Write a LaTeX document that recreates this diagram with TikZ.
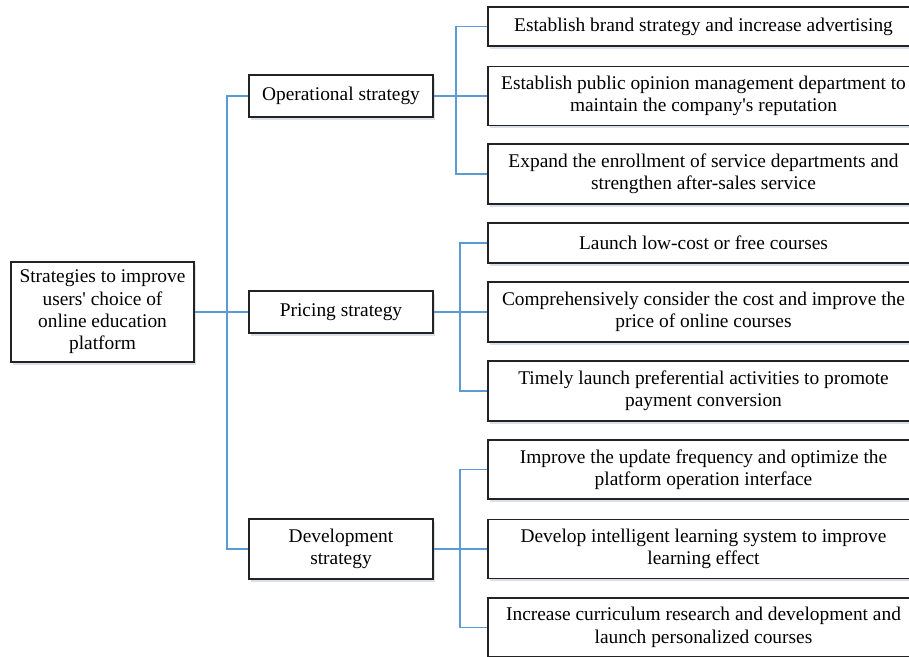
\documentclass[tikz,border=0pt]{standalone}
\usepackage{fontspec}
\setmainfont{Liberation Serif}
\usetikzlibrary{shadows}
\definecolor{linkblue}{RGB}{91,155,213}
\definecolor{boxline}{RGB}{35,35,35}
\definecolor{shade}{RGB}{208,216,230}
\begin{document}
\begin{tikzpicture}[x=1pt,y=-1pt,
  box/.style={draw=boxline, line width=1.2pt, fill=white, inner sep=0pt,
    align=center, font=\fontsize{19.4}{22.4}\selectfont,
    drop shadow={shadow xshift=1.5pt, shadow yshift=-2.5pt, fill=shade, opacity=0.8}},
  rootbox/.style={box, minimum width=183pt, minimum height=100pt},
  midbox/.style={box, minimum width=184pt},
  leafbox/.style={box, minimum width=431pt},
  conn/.style={draw=linkblue, line width=1.4pt}]
\useasboundingbox (0,0) rectangle (909,656);
\clip (0,0) rectangle (909,656);
\fill[white] (0,0) rectangle (909,656);

% root and strategy groups
\node[rootbox] (root) at (102.5,312) {Strategies to improve\\users\textquotesingle{} choice of\\online education\\platform};
\node[midbox, minimum height=42pt] (op) at (341,96) {Operational strategy};
\node[midbox, minimum height=42pt] (pr) at (341,312) {Pricing strategy};
\node[midbox, minimum height=60pt] (dv) at (341,549) {Development\\strategy};

% measures of each group
\node[leafbox, minimum height=39pt] (op1) at (703.5,26.5) {Establish brand strategy and increase advertising};
\node[leafbox, minimum height=59pt] (op2) at (703.5,96) {Establish public opinion management department to\\maintain the company\textquotesingle{}s reputation};
\node[leafbox, minimum height=60pt] (op3) at (703.5,174) {Expand the enrollment of service departments and\\strengthen after-sales service};

\node[leafbox, minimum height=40pt] (pr1) at (703.5,243) {Launch low-cost or free courses};
\node[leafbox, minimum height=60pt] (pr2) at (703.5,312) {Comprehensively consider the cost and improve the\\price of online courses};
\node[leafbox, minimum height=60pt] (pr3) at (703.5,391) {Timely launch preferential activities to promote\\payment conversion};

\node[leafbox, minimum height=59pt] (dv1) at (703.5,469.5) {Improve the update frequency and optimize the\\platform operation interface};
\node[leafbox, minimum height=59pt] (dv2) at (703.5,549) {Develop intelligent learning system to improve\\learning effect};
\node[leafbox, minimum height=59pt] (dv3) at (703.5,627.5) {Increase curriculum research and development and\\launch personalized courses};

% junction points of the tree
\coordinate (trunk) at (227,312);
\coordinate (opj) at (456,96);
\coordinate (prj) at (460,312);
\coordinate (dvj) at (460,549);

% connectors
\draw[conn] (root.east) -- (trunk);
\draw[conn] (trunk) |- (op.west);
\draw[conn] (trunk) -- (pr.west);
\draw[conn] (trunk) |- (dv.west);

\draw[conn] (op.east) -- (opj);
\draw[conn] (opj) |- (op1.west);
\draw[conn] (opj) -- (op2.west);
\draw[conn] (opj) |- (op3.west);

\draw[conn] (pr.east) -- (prj);
\draw[conn] (prj) |- (pr1.west);
\draw[conn] (prj) -- (pr2.west);
\draw[conn] (prj) |- (pr3.west);

\draw[conn] (dv.east) -- (dvj);
\draw[conn] (dvj) |- (dv1.west);
\draw[conn] (dvj) -- (dv2.west);
\draw[conn] (dvj) |- (dv3.west);
\end{tikzpicture}
\end{document}
